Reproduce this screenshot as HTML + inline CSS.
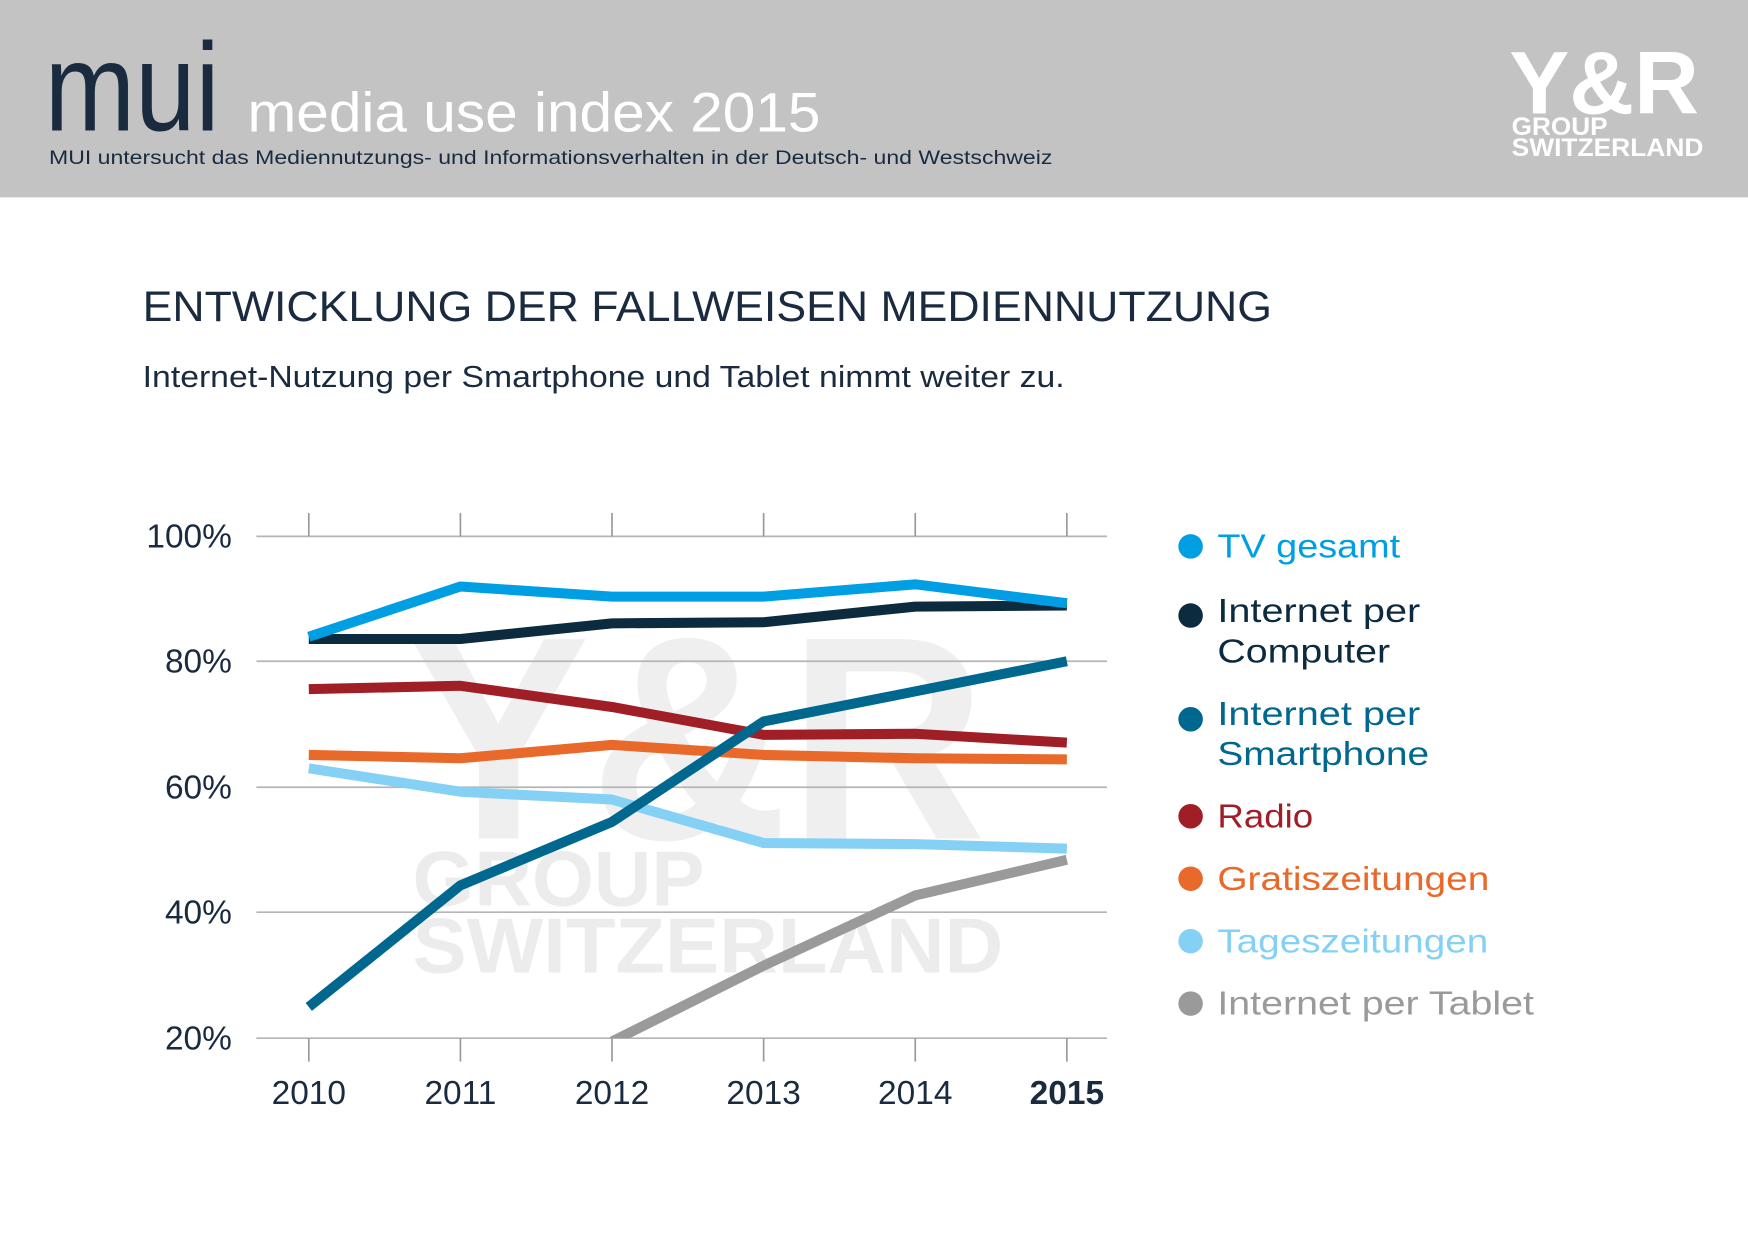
<!DOCTYPE html>
<html><head><meta charset="utf-8"><style>
html,body{margin:0;padding:0;background:#fff;}
svg{display:block;font-family:"Liberation Sans",sans-serif;}
</style></head><body>
<svg width="1748" height="1240" viewBox="0 0 1568 1112" preserveAspectRatio="none" xmlns="http://www.w3.org/2000/svg">
<rect x="0" y="0" width="1568" height="177" fill="#c3c3c3"/>
<text x="40" y="117" font-size="112" fill="#1a2b40" textLength="157" lengthAdjust="spacingAndGlyphs">mui</text>
<text x="222" y="118" font-size="50" fill="#ffffff" textLength="514" lengthAdjust="spacingAndGlyphs">media use index 2015</text>
<text x="44" y="147" font-size="17" fill="#1a2b40" textLength="900" lengthAdjust="spacingAndGlyphs">MUI untersucht das Mediennutzungs- und Informationsverhalten in der Deutsch- und Westschweiz</text>
<text x="1354" y="102" font-size="80" font-weight="bold" fill="#fff" textLength="170" lengthAdjust="spacingAndGlyphs">Y&amp;R</text>
<text x="1356" y="121" font-size="22" font-weight="bold" fill="#fff" textLength="86" lengthAdjust="spacingAndGlyphs">GROUP</text>
<text x="1356" y="140" font-size="22" font-weight="bold" fill="#fff" textLength="172" lengthAdjust="spacingAndGlyphs">SWITZERLAND</text>

<text x="128" y="288" font-size="38" fill="#1a2b40" textLength="1013" lengthAdjust="spacingAndGlyphs">ENTWICKLUNG DER FALLWEISEN MEDIENNUTZUNG</text>
<text x="128" y="347" font-size="27" fill="#1a2b40" textLength="827" lengthAdjust="spacingAndGlyphs">Internet-Nutzung per Smartphone und Tablet nimmt weiter zu.</text>

<g fill="#ececec" font-weight="bold">
<text x="365" y="752" font-size="260" textLength="520" lengthAdjust="spacingAndGlyphs" opacity="0.8">Y&amp;R</text>
<text x="370" y="812" font-size="70" textLength="262" lengthAdjust="spacingAndGlyphs">GROUP</text>
<text x="370" y="872" font-size="70" textLength="530" lengthAdjust="spacingAndGlyphs">SWITZERLAND</text>
</g>

<g stroke="#b5b5b5" stroke-width="1.5">
<line x1="230" y1="481" x2="993" y2="481"/>
<line x1="230" y1="593" x2="993" y2="593"/>
<line x1="230" y1="706" x2="993" y2="706"/>
<line x1="230" y1="818" x2="993" y2="818"/>
<line x1="230" y1="931" x2="993" y2="931"/>
<g stroke="#999">
<line x1="277" y1="460" x2="277" y2="481"/><line x1="413" y1="460" x2="413" y2="481"/><line x1="549" y1="460" x2="549" y2="481"/><line x1="685" y1="460" x2="685" y2="481"/><line x1="821" y1="460" x2="821" y2="481"/><line x1="957" y1="460" x2="957" y2="481"/>
<line x1="277" y1="931" x2="277" y2="952"/><line x1="413" y1="931" x2="413" y2="952"/><line x1="549" y1="931" x2="549" y2="952"/><line x1="685" y1="931" x2="685" y2="952"/><line x1="821" y1="931" x2="821" y2="952"/><line x1="957" y1="931" x2="957" y2="952"/>
</g></g>

<g font-size="30" fill="#1a2b40" text-anchor="end">
<text x="208" y="491">100%</text><text x="208" y="603">80%</text><text x="208" y="716">60%</text><text x="208" y="828">40%</text><text x="208" y="941">20%</text>
</g>
<g font-size="30" fill="#1a2b40" text-anchor="middle">
<text x="277" y="990">2010</text><text x="413" y="990">2011</text><text x="549" y="990">2012</text><text x="685" y="990">2013</text><text x="821" y="990">2014</text><text x="957" y="990" font-weight="bold">2015</text>
</g>

<clipPath id="c"><rect x="230" y="440" width="770" height="491"/></clipPath>
<g fill="none" stroke-width="9" stroke-linejoin="round" clip-path="url(#c)">
<polyline stroke="#9a9a9a" points="549,934 685,866 821,803 957,771"/>
<polyline stroke="#85d1f5" points="277,689 413,710 549,717 685,756 821,757 957,761"/>
<polyline stroke="#e8692a" points="277,677 413,680 549,668 685,677 821,680 957,681"/>
<polyline stroke="#a01f27" points="277,618 413,615 549,634 685,659 821,658 957,666"/>
<polyline stroke="#00688f" points="277,903 413,794 549,737 685,647 821,620 957,593"/>
<polyline stroke="#0d2b3e" points="277,573 413,573 549,559 685,558 821,544 957,543"/>
<polyline stroke="#009fe3" points="277,571 413,526 549,535 685,535 821,524 957,541"/>
</g>

<g font-size="30">
<circle cx="1068" cy="490" r="11" fill="#009fe3"/><text x="1092" y="500" fill="#009fe3" textLength="164" lengthAdjust="spacingAndGlyphs">TV gesamt</text>
<circle cx="1068" cy="552" r="11" fill="#0d2b3e"/><text x="1092" y="558" fill="#0d2b3e" textLength="182" lengthAdjust="spacingAndGlyphs">Internet per</text><text x="1092" y="594" fill="#0d2b3e" textLength="155" lengthAdjust="spacingAndGlyphs">Computer</text>
<circle cx="1068" cy="645" r="11" fill="#00688f"/><text x="1092" y="650" fill="#00688f" textLength="182" lengthAdjust="spacingAndGlyphs">Internet per</text><text x="1092" y="686" fill="#00688f" textLength="190" lengthAdjust="spacingAndGlyphs">Smartphone</text>
<circle cx="1068" cy="732" r="11" fill="#a01f27"/><text x="1092" y="742" fill="#a01f27" textLength="86" lengthAdjust="spacingAndGlyphs">Radio</text>
<circle cx="1068" cy="788" r="11" fill="#e8692a"/><text x="1092" y="798" fill="#e8692a" textLength="244" lengthAdjust="spacingAndGlyphs">Gratiszeitungen</text>
<circle cx="1068" cy="844" r="11" fill="#85d1f5"/><text x="1092" y="854" fill="#85d1f5" textLength="243" lengthAdjust="spacingAndGlyphs">Tageszeitungen</text>
<circle cx="1068" cy="900" r="11" fill="#9a9a9a"/><text x="1092" y="910" fill="#9a9a9a" textLength="284" lengthAdjust="spacingAndGlyphs">Internet per Tablet</text>
</g>
</svg>
</body></html>
